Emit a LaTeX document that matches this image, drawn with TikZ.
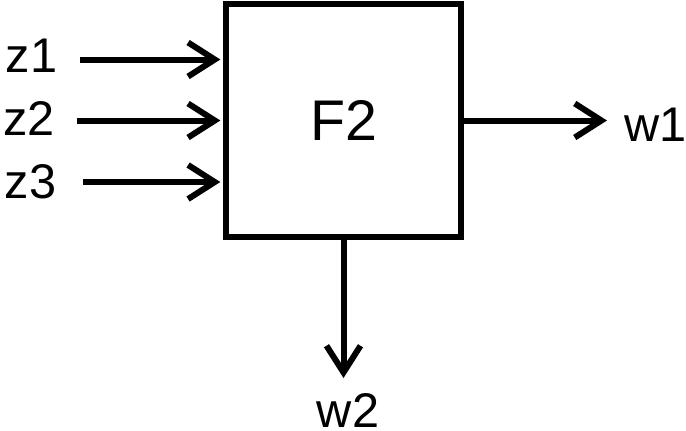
\documentclass[tikz,border=0pt]{standalone}
\usepackage{fontspec}
\setmainfont{Liberation Sans}
\usetikzlibrary{arrows.meta}

\tikzset{every picture/.style={line width=4.5pt}}
\tikzset{arr/.style={-{Straight Barb[length=20pt,width=25.5pt]}}}

\begin{document}
\begin{tikzpicture}[x=0.75pt,y=0.75pt,yscale=-1,xscale=1]
        \useasboundingbox (0,0) rectangle (686,430); %set diagram to 686 x 430

        %Shape: Rectangle [id:fbox]
        \node [draw][minimum width=176.25pt,minimum height=174.75pt][inner sep=0pt]  [font=\fontsize{43}{50}\selectfont] (fb) at (343.5,120.5) {F2};

        % Text Node
        \draw (3,72) node [anchor=base west][inner sep=0pt]  [font=\fontsize{36.5}{42}\selectfont] (z1) {z1};
        % Text Node
        \draw (0,135) node [anchor=base west][inner sep=0pt]  [font=\fontsize{36.5}{42}\selectfont] (z2) {z2};
        % Text Node
        \draw (2,198) node [anchor=base west][inner sep=0pt]  [font=\fontsize{36.5}{42}\selectfont] (z3) {z3};
        % Text Node
        \draw (621,141) node [anchor=base west][inner sep=0pt]  [font=\fontsize{36.5}{42}\selectfont] (w1) {w1};
        % Text Node
        \draw (348,427) node [anchor=base][inner sep=0pt]  [font=\fontsize{36.5}{42}\selectfont] (w2) {w2};

        \coordinate (a1) at (80,59.5);
        \coordinate (a2) at (77,120.5);
        \coordinate (a3) at (83,182);
        \coordinate (b1) at (607,120.5);
        \coordinate (b2) at (343.5,378);

        %Straight Lines
        \draw [arr] (a1) -- ([xshift=-2pt]a1 -| fb.west);
        \draw [arr] (a2) -- ([xshift=-2pt]a2 -| fb.west);
        \draw [arr] (a3) -- ([xshift=-2pt]a3 -| fb.west);
        \draw [arr] (fb.east) -- (b1);
        \draw [arr] (fb.south) -- (b2);

    \end{tikzpicture}
\end{document}
